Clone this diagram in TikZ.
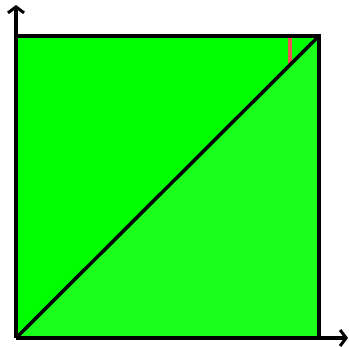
\documentclass[tikz,border=0pt]{standalone}
\usetikzlibrary{arrows.meta}
\definecolor{gA}{RGB}{0,255,0}
\definecolor{gB}{RGB}{25,255,25}
\definecolor{rl}{RGB}{240,80,80}
\tikzset{axis/.style={line width=3.5pt,-{Straight Barb[length=6pt,width=16pt,line width=3pt]}},
edge/.style={line width=3.5pt}}
\begin{document}
\begin{tikzpicture}[x=1pt,y=-1pt]
\useasboundingbox (0,0) rectangle (349,347);
\coordinate (O) at (16,338);
\coordinate (TL) at (16,36);
\coordinate (TR) at (319,36);
\coordinate (BR) at (319,338);
\coordinate (Y) at (16,5);
\coordinate (X) at (348,338);
\coordinate (R1) at (290,36);
\coordinate (R2) at (290,64);
\fill[gA] (O) -- (TL) -- (TR) -- cycle;
\fill[gB] (O) -- (TR) -- (BR) -- cycle;
\draw[rl,line width=3.5pt] (R1) -- (R2);
\draw[edge] (TL) -- (TR) -- (BR);
\draw[edge] (O) -- (TR);
\draw[axis] (O) -- (Y);
\draw[axis] (O) -- (X);
\end{tikzpicture}
\end{document}
